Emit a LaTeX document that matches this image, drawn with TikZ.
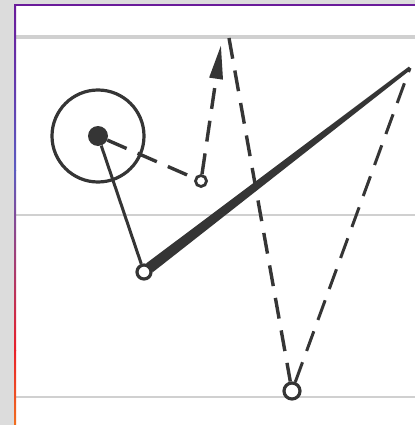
\documentclass[tikz,border=0pt]{standalone}
\usetikzlibrary{arrows.meta,calc}
\definecolor{ink}{HTML}{353535}
\definecolor{rulec}{HTML}{D0D0D0}
\definecolor{bg}{HTML}{DCDCDC}
\definecolor{bpurple}{HTML}{6A1B9A}
\definecolor{bblue}{HTML}{5C5CC0}
\definecolor{bred}{HTML}{E8202A}
\definecolor{borange}{HTML}{F07020}
\begin{document}
\begin{tikzpicture}[x=1pt,y=-1pt,
  inkline/.style={draw=ink,line width=3.4pt},
  dashline/.style={inkline,dash pattern=on 21pt off 12pt},
  ring/.style={circle,draw=ink,line width=3.2pt,fill=white,inner sep=0pt},
  paperrule/.style={draw=rulec,line width=2pt}]
\useasboundingbox (0,0) rectangle (415,425);
% background and paper
\fill[bg] (0,0) rectangle (415,425);
\fill[white] (15,5) rectangle (415,425);
\draw[paperrule,line width=3.5pt] (15,37) -- (415,37);
\draw[paperrule,line width=1.8pt] (15,215) -- (415,215);
\draw[paperrule,line width=2pt] (15,397) -- (415,397);
% coloured borders
\draw[bpurple,line width=1.5pt] (14.5,5) -- (415,5);
\shade[top color=bpurple,bottom color=bblue] (14,5) rectangle (16,170);
\shade[top color=bblue,bottom color=bred] (14,170) rectangle (16,350);
\shade[top color=bred,bottom color=borange] (14,350) rectangle (16,425);
% nodes
\node[ring,minimum size=92pt] (hub) at (98,136) {};
\node[circle,fill=ink,minimum size=20pt,inner sep=0pt] (dot) at (98,136) {};
\node[ring,minimum size=14pt] (p) at (144,272) {};
\node[ring,minimum size=11pt,line width=2.8pt] (d) at (201,181) {};
\node[ring,minimum size=16pt] (b) at (292,391) {};
\coordinate (tip) at (221,45);
\coordinate (top) at (229,38);
\coordinate (tr) at (410,68);
% connectors
\draw[inkline,line width=3pt] (dot) -- (p);
\draw[dashline] (dot) -- (d);
\draw[dashline,-{Triangle[length=34pt,width=13pt]}] (d) -- (tip);
\draw[dashline] (top) -- (b);
\draw[dashline,line width=3pt] (b) -- (tr);
\coordinate (s) at ($(p)!7pt!(tr)$);
\fill[ink] ($(s)!5.5pt!90:(tr)$) -- ($(tr)!1.8pt!-90:(s)$) -- ($(tr)!1.8pt!90:(s)$) -- ($(s)!5.5pt!-90:(tr)$) -- cycle;
\end{tikzpicture}
\end{document}
